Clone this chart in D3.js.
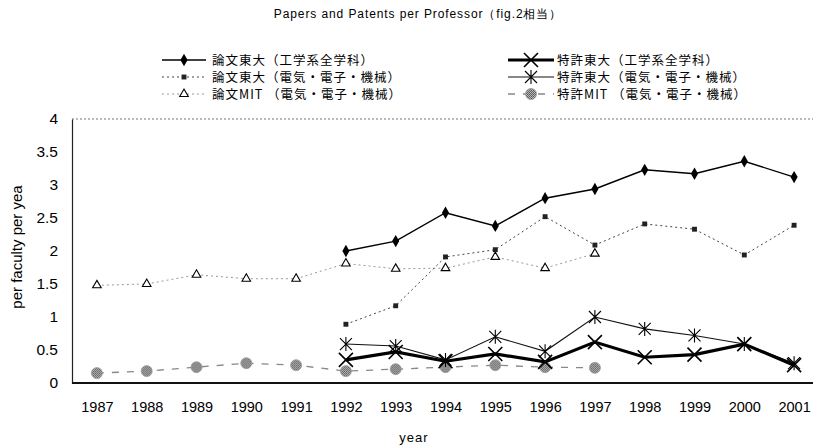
<!DOCTYPE html>
<html>
<head>
<meta charset="utf-8">
<script src="https://cdn.jsdelivr.net/npm/d3@7"></script>
<style>
  body { margin: 0; background: #fff; }
  svg { display: block; }
  text { font-family: "Liberation Sans", Arial, sans-serif; fill: #000; }
  .jp { font-family: "Noto Sans CJK JP", sans-serif; }
</style>
</head>
<body>
<svg id="chart" width="813" height="447"></svg>
<script>
var years = [1987, 1988, 1989, 1990, 1991, 1992, 1993, 1994, 1995, 1996, 1997, 1998, 1999, 2000, 2001];
var yTicks = [0, 0.5, 1, 1.5, 2, 2.5, 3, 3.5, 4];

var paperUTAll  = [null, null, null, null, null, 2.0, 2.15, 2.58, 2.38, 2.8, 2.94, 3.23, 3.17, 3.36, 3.12];
var paperUTEE   = [null, null, null, null, null, 0.89, 1.17, 1.91, 2.02, 2.52, 2.09, 2.41, 2.33, 1.94, 2.39];
var paperMIT    = [1.48, 1.5, 1.64, 1.58, 1.58, 1.81, 1.73, 1.74, 1.91, 1.74, 1.96, null, null, null, null];
var patentUTAll = [null, null, null, null, null, 0.35, 0.47, 0.33, 0.44, 0.32, 0.62, 0.39, 0.43, 0.59, 0.27];
var patentUTEE  = [null, null, null, null, null, 0.59, 0.56, 0.35, 0.7, 0.48, 1.0, 0.82, 0.72, 0.59, 0.3];
var patentMIT   = [0.15, 0.18, 0.24, 0.3, 0.27, 0.18, 0.21, 0.24, 0.27, 0.24, 0.23, null, null, null, null];

var seriesNames = [
  "論文東大（工学系全学科）",
  "論文東大（電気・電子・機械）",
  "論文MIT （電気・電子・機械）",
  "特許東大（工学系全学科）",
  "特許東大（電気・電子・機械）",
  "特許MIT （電気・電子・機械）"
];

var svg = d3.select("#chart");
var plotLeft = 72, plotTop = 119, plotBottom = 383, plotRight = 819;

var x = d3.scalePoint().domain(years).range([plotLeft, plotRight]).padding(0.5);
var y = d3.scaleLinear().domain([0, 4]).range([plotBottom, plotTop]);

// hatched fill for MIT patent circles
var defs = svg.append("defs");
var pat = defs.append("pattern").attr("id", "hatch").attr("patternUnits", "userSpaceOnUse")
  .attr("width", 2).attr("height", 2);
pat.append("rect").attr("width", 2).attr("height", 2).attr("fill", "#bbb");
pat.append("rect").attr("width", 1).attr("height", 1).attr("fill", "#555");
pat.append("rect").attr("x", 1).attr("y", 1).attr("width", 1).attr("height", 1).attr("fill", "#666");

// title
svg.append("text")
  .attr("x", 418).attr("y", 18)
  .attr("text-anchor", "middle")
  .style("font-size", "12px")
  .style("letter-spacing", "0.9px")
  .text("Papers and Patents per Professor（fig.2相当）");

// frame
svg.append("line").attr("x1", plotLeft).attr("x2", 813).attr("y1", plotTop).attr("y2", plotTop)
  .attr("stroke", "#777").attr("stroke-width", 1).attr("stroke-dasharray", "2,2");

// y axis
var gy = svg.append("g")
  .attr("transform", "translate(" + plotLeft + ",0)")
  .call(d3.axisLeft(y).tickValues(yTicks).tickSize(0).tickPadding(14).tickFormat(function(d) { return String(d); }));
gy.select(".domain").attr("stroke", "#222").attr("stroke-width", 1.2);
gy.selectAll("text").style("font-size", "15.5px").style("font-family", "Liberation Sans, Arial, sans-serif");

// x axis
var gx = svg.append("g")
  .attr("transform", "translate(0," + plotBottom + ")")
  .call(d3.axisBottom(x).tickSize(0).tickPadding(19));
gx.select(".domain").attr("d", "M" + plotLeft + ",0H813").attr("stroke", "#111").attr("stroke-width", 2);
gx.selectAll("text").style("font-size", "14.5px").style("font-family", "Liberation Sans, Arial, sans-serif");

// axis labels
svg.append("text")
  .attr("transform", "translate(22,247) rotate(-90)")
  .attr("text-anchor", "middle")
  .style("font-size", "15px")
  .text("per faculty per yea");
svg.append("text")
  .attr("x", 414).attr("y", 442)
  .attr("text-anchor", "middle")
  .style("font-size", "13px")
  .style("letter-spacing", "1px")
  .text("year");

// marker drawers
function diamond(g) {
  g.append("path").attr("d", d3.symbol().type(d3.symbolDiamond).size(44)).attr("fill", "#000");
}
function square(g) {
  g.append("path").attr("d", d3.symbol().type(d3.symbolSquare).size(24)).attr("fill", "#222");
}
function triangle(g) {
  g.append("path").attr("d", d3.symbol().type(d3.symbolTriangle).size(32))
    .attr("fill", "#fff").attr("stroke", "#000").attr("stroke-width", 1.1);
}
function cross(g) {
  g.append("path").attr("d", "M-7,-7L7,7M-7,7L7,-7").attr("stroke", "#000").attr("stroke-width", 1.6).attr("fill", "none");
}
function asterisk(g) {
  g.append("path").attr("d", "M-6,-6L6,6M-6,6L6,-6M0,-7V7").attr("stroke", "#000").attr("stroke-width", 1.1).attr("fill", "none");
}
function hatched(g) {
  g.append("circle").attr("r", 5.5).attr("fill", "url(#hatch)").attr("stroke", "#999").attr("stroke-width", 0.8);
}

var series = [
  { name: seriesNames[0], values: paperUTAll,  color: "#000", width: 1.4, dash: null,  marker: diamond },
  { name: seriesNames[1], values: paperUTEE,   color: "#444", width: 1,   dash: "2,3", marker: square },
  { name: seriesNames[2], values: paperMIT,    color: "#999", width: 1,   dash: "2,3", marker: triangle },
  { name: seriesNames[3], values: patentUTAll, color: "#000", width: 3.2, dash: null,  marker: cross },
  { name: seriesNames[4], values: patentUTEE,  color: "#111", width: 1.1, dash: null,  marker: asterisk },
  { name: seriesNames[5], values: patentMIT,   color: "#888", width: 1.3, dash: "7,8", marker: hatched }
];

var line = d3.line()
  .defined(function(d) { return d.v != null; })
  .x(function(d) { return x(d.year); })
  .y(function(d) { return y(d.v); });

var drawOrder = [2, 1, 5, 0, 4, 3];
drawOrder.forEach(function(i) {
  var s = series[i];
  var pts = years.map(function(yr, j) { return { year: yr, v: s.values[j] }; });
  svg.append("path")
    .datum(pts)
    .attr("d", line)
    .attr("fill", "none")
    .attr("stroke", s.color)
    .attr("stroke-width", s.width)
    .attr("stroke-dasharray", s.dash);
  pts.filter(function(d) { return d.v != null; }).forEach(function(d) {
    var g = svg.append("g").attr("transform", "translate(" + x(d.year) + "," + y(d.v) + ")");
    s.marker(g);
  });
});

// legend
var legendCols = [{ x0: 162, x1: 206, tx: 212 }, { x0: 508, x1: 554, tx: 557 }];
var legendRows = [60, 77, 94];
series.forEach(function(s, i) {
  var col = legendCols[Math.floor(i / 3)], ry = legendRows[i % 3];
  svg.append("line")
    .attr("x1", col.x0).attr("x2", col.x1).attr("y1", ry).attr("y2", ry)
    .attr("stroke", s.color).attr("stroke-width", s.width)
    .attr("stroke-dasharray", s.dash);
  s.marker(svg.append("g").attr("transform", "translate(" + ((col.x0 + col.x1) / 2) + "," + ry + ")"));
  svg.append("text")
    .attr("class", "jp")
    .attr("x", col.tx).attr("y", ry + 4.5)
    .style("font-size", "12.5px")
    .style("letter-spacing", "1px")
    .text(s.name);
});
</script>
</body>
</html>
